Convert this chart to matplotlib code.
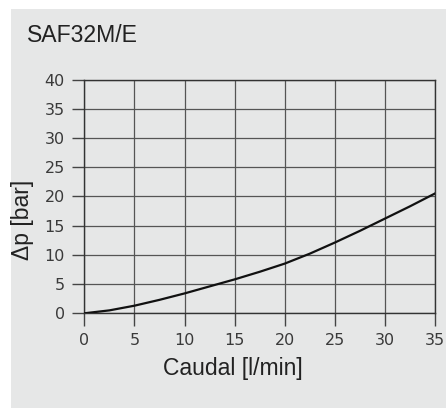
import matplotlib
matplotlib.use("Agg")
import matplotlib.pyplot as plt
from matplotlib.patches import Rectangle

title = "SAF32M/E"
xlabel = "Caudal [l/min]"
ylabel = "Δp [bar]"
flow = [0, 2.5, 5, 7.5, 10, 12.5, 15, 17.5, 20, 22.5, 25, 27.5, 30, 32.5, 35]
dp = [0, 0.5, 1.3, 2.3, 3.4, 4.6, 5.8, 7.1, 8.5, 10.2, 12.1, 14.1, 16.2, 18.3, 20.5]
xticks = [0, 5, 10, 15, 20, 25, 30, 35]
yticks = [0, 5, 10, 15, 20, 25, 30, 35, 40]

W, H = 446, 408
fig = plt.figure(figsize=(W / 100, H / 100), dpi=100)
fig.patch.set_facecolor("white")
bg = Rectangle((11 / W, 0), 1 - 11 / W, (H - 9) / H,
               transform=fig.transFigure, facecolor="#e6e7e7",
               edgecolor="none", zorder=-10)
fig.patches.append(bg)

left, right = 84.3 / W, 435 / W
bottom, top = (H - 313.3) / H, (H - 79.5) / H
ax = fig.add_axes([left, bottom, right - left, top - bottom])
ax.set_zorder(5)
ax.set_facecolor("none")
ax.plot(flow, dp, color="#111111", lw=1.6, zorder=3)
ax.set_xlim(0, 35)
ax.set_ylim(0, 40)
ax.set_xticks(xticks)
ax.set_yticks(yticks)
ax.grid(True, color="#555555", lw=0.9)
for s in ax.spines.values():
    s.set_color("#333333")
    s.set_linewidth(1.0)
ax.tick_params(direction="out", length=9, width=1.0, color="#444444",
               labelsize=11.5, labelcolor="#3a3a3a", pad=5)
for lab in ax.get_xticklabels() + ax.get_yticklabels():
    lab.set_fontfamily(["DejaVu Sans"])

fig.text(26.5 / W, (H - 41.7) / H, title, fontsize=16.6, family="Liberation Sans",
         color="#222222", ha="left", va="baseline")
fig.text(233 / W, (H - 368) / H, xlabel, fontsize=16.5, family="Liberation Sans",
         color="#222222", ha="center", va="center")
fig.text(23 / W, (H - 220) / H, ylabel, fontsize=16.5, family="Liberation Sans",
         color="#222222", ha="center", va="center", rotation=90)

fig.savefig("out.png", dpi=100)
